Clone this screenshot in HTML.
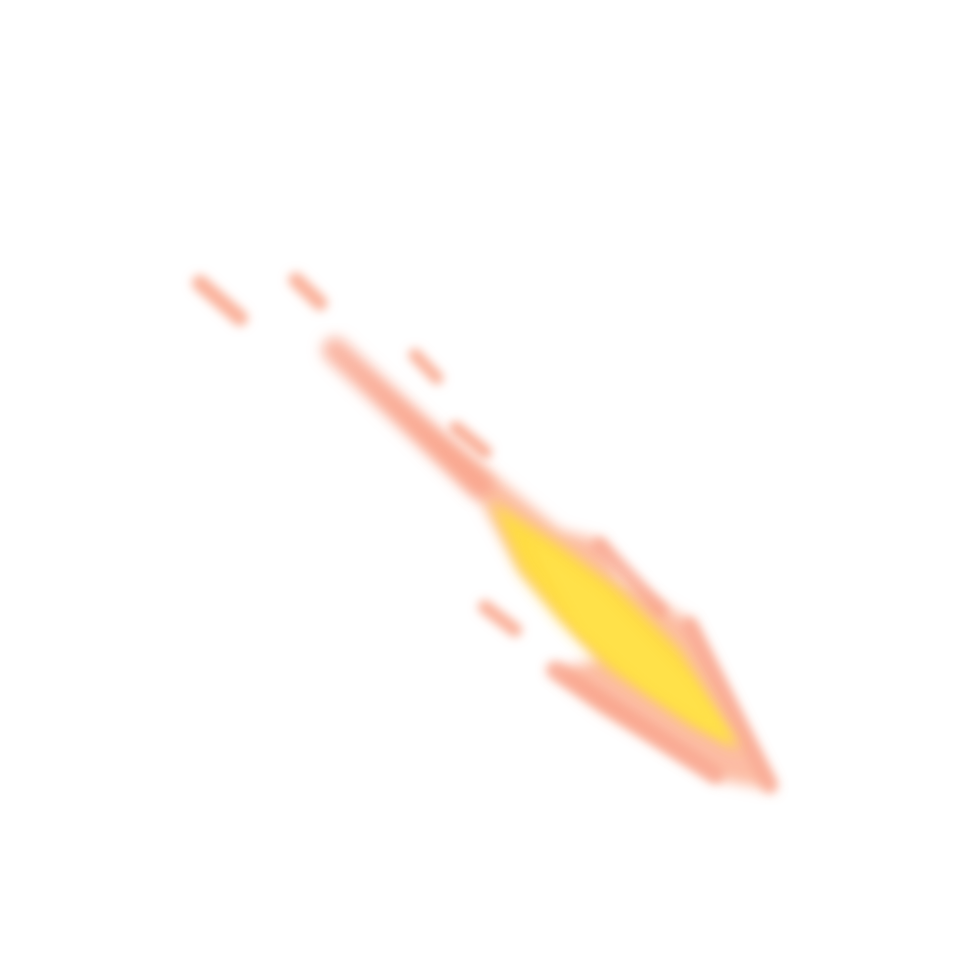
<!DOCTYPE html>
<html><head><meta charset="utf-8"><style>
html,body{margin:0;padding:0;background:#fff;width:960px;height:960px;overflow:hidden}
</style></head><body>
<svg width="960" height="960" viewBox="0 0 960 960">
<defs>
<filter id="b" x="-20%" y="-20%" width="140%" height="140%"><feGaussianBlur stdDeviation="5"/></filter>
<filter id="b2" x="-20%" y="-20%" width="140%" height="140%"><feGaussianBlur stdDeviation="7"/></filter>
</defs>
<g filter="url(#b)" stroke-linecap="round" fill="none">
<path d="M200 283 L240 318" stroke="#f9a58a" stroke-width="16" opacity="0.85"/>
<path d="M296 280 L320 303" stroke="#f9a58a" stroke-width="15" opacity="0.85"/>
<path d="M415 355 L437 378" stroke="#f9a58a" stroke-width="13" opacity="0.85"/>
<path d="M456 428 L485 452" stroke="#f9a58a" stroke-width="14" opacity="0.85"/>
<path d="M485 607 L515 630" stroke="#f9a58a" stroke-width="14" opacity="0.85"/>
</g>
<g filter="url(#b2)">
<path d="M330 345 L420 420 L500 480 L560 530 L600 540 L620 580 L690 620 L775 790 L720 780 L600 710 L550 670 L600 660 L520 570 L480 500 L430 450 Z" fill="#fbb094" opacity="0.85"/>
</g>
<g filter="url(#b2)" stroke-linecap="round" fill="none">
<path d="M335 350 L480 485" stroke="#f8a088" stroke-width="26" opacity="0.75"/>
</g>
<g filter="url(#b)" stroke-linecap="round" fill="none">
<path d="M555 670 L715 775" stroke="#f8a088" stroke-width="18" opacity="0.75"/>
<path d="M690 625 L770 785" stroke="#f8a088" stroke-width="16" opacity="0.75"/>
<path d="M600 545 L660 610" stroke="#f8a088" stroke-width="16" opacity="0.75"/>
</g>
<g filter="url(#b2)">
<path d="M490 500 L560 545 L620 590 L680 650 L740 750 L690 725 L610 670 L560 620 L520 570 Z" fill="#ffde3c" opacity="0.95"/>
</g>
<g filter="url(#b)">
<path d="M530 540 L600 590 L690 680 L735 745 L650 690 L580 630 Z" fill="#ffe14a"/>
</g>
</svg>
</body></html>
